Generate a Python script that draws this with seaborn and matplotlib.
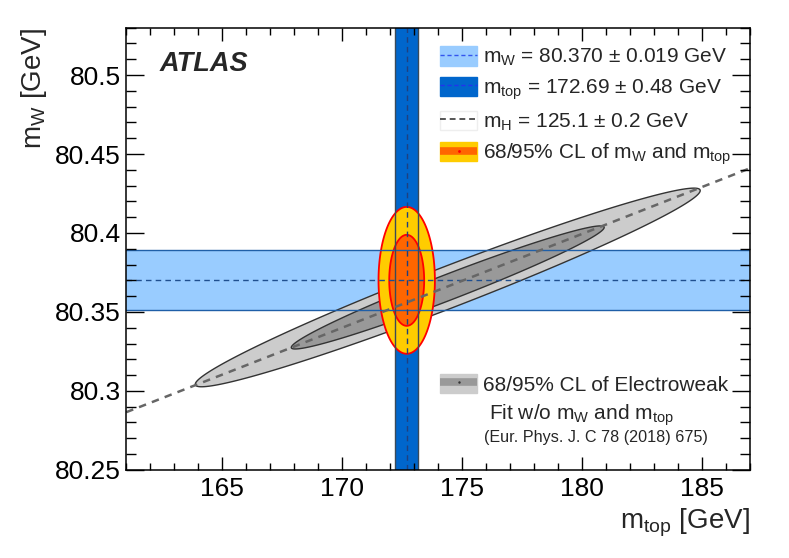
import numpy as np
import pandas as pd
import seaborn as sns
import matplotlib
matplotlib.use("Agg")
import matplotlib.pyplot as plt
from matplotlib.patches import Patch
from matplotlib.lines import Line2D
from matplotlib.ticker import MultipleLocator, FixedLocator

# measurements
mw_val, mw_err = 80.370, 0.019
mt_val, mt_err = 172.69, 0.48

# electroweak fit without mW and mtop
ew_mt, ew_mt_err = 174.4, 4.3
ew_mw, ew_mw_err = 80.3655, 0.0257
ew_rho = 0.975

# mH = 125.1 GeV line
mh_mt = [161.0, 187.0]
mh_mw = [80.2865, 80.441]

# chi2 quantiles for 2 dof: 68% and 95%
cl_levels = [2.30, 5.99]

y_ticks = [80.25, 80.3, 80.35, 80.4, 80.45, 80.5]
y_ticklabels = ['80.25', '80.3', '80.35', '80.4', '80.45', '80.5']

sns.set_theme(style="ticks")
plt.rcParams['font.family'] = ['Liberation Sans', 'DejaVu Sans']
plt.rcParams['mathtext.default'] = 'regular'
plt.rcParams.update({
    'xtick.direction': 'in', 'ytick.direction': 'in',
    'xtick.top': True, 'ytick.right': True,
    'xtick.color': 'black', 'ytick.color': 'black',
    'xtick.major.width': 1.0, 'ytick.major.width': 1.0,
    'xtick.minor.width': 1.0, 'ytick.minor.width': 1.0,
    'xtick.minor.visible': True, 'ytick.minor.visible': True,
    'axes.axisbelow': False,
})


def ellipse(mx, my, sx, sy, rho, k, n=200):
    cov = np.array([[sx**2, rho*sx*sy], [rho*sx*sy, sy**2]])
    L = np.linalg.cholesky(cov)
    t = np.linspace(0, 2*np.pi, n)
    pts = L @ np.vstack([np.cos(t), np.sin(t)]) * np.sqrt(k)
    return mx + pts[0], my + pts[1]


fig, ax = plt.subplots(figsize=(7.89, 5.58), dpi=100)
fig.subplots_adjust(left=0.160, right=0.9506, bottom=0.158, top=0.9504)

# bands (fill only, lines later on top)
ax.axhspan(mw_val - mw_err, mw_val + mw_err, color='#99ccff', lw=0, zorder=1)
ax.axvspan(mt_val - mt_err, mt_val + mt_err, color='#0066cc', lw=0, zorder=1)

# EW fit contours
for k, fc in zip(cl_levels[::-1], ['#cccccc', '#999999']):
    ex, ey = ellipse(ew_mt, ew_mw, ew_mt_err, ew_mw_err, ew_rho, k)
    ax.fill(ex, ey, facecolor=fc, edgecolor='#333333', lw=1.0, zorder=2)

# mW / mtop measurement contours
for k, fc in zip(cl_levels[::-1], ['#ffcc00', '#ff6600']):
    ex, ey = ellipse(mt_val, mw_val, mt_err, mw_err, 0.0, k)
    ax.fill(ex, ey, facecolor=fc, edgecolor='#ff0000', lw=1.3, zorder=3)

# band edges and central lines on top
for v in [mw_val - mw_err, mw_val + mw_err]:
    ax.axhline(v, color='#1f5fa8', lw=1.0, zorder=4)
ax.axhline(mw_val, color='#1f4f8f', lw=1.0, ls=(0, (4, 3)), zorder=4)
for v in [mt_val - mt_err, mt_val + mt_err]:
    ax.axvline(v, color='#3a4a5a', lw=1.0, zorder=4)
ax.axvline(mt_val, color='#1f3f7f', lw=1.0, ls=(0, (4, 3)), zorder=4)

mh = pd.DataFrame({'mt': mh_mt, 'mw': mh_mw})
sns.lineplot(data=mh, x='mt', y='mw', ax=ax, color='#666666', lw=1.8,
             linestyle=(0, (3, 2.5)), zorder=5)

ax.set_xlim(161, 187)
ax.set_ylim(80.25, 80.53)
ax.xaxis.set_major_locator(MultipleLocator(5))
ax.xaxis.set_minor_locator(MultipleLocator(1))
ax.yaxis.set_major_locator(FixedLocator(y_ticks))
ax.yaxis.set_minor_locator(MultipleLocator(0.01))
ax.set_yticklabels(y_ticklabels)

ax.set_xlabel('m$_{top}$ [GeV]', fontsize=20, loc='right')
ax.set_ylabel('m$_{W}$ [GeV]', fontsize=20, loc='top')

ax.text(0.053, 0.918, 'ATLAS', transform=ax.transAxes, fontsize=19.5,
        fontweight='bold', fontstyle='italic', va='center', zorder=11)

h_w = (Patch(facecolor='#99ccff', edgecolor='#99ccff'),
       Line2D([], [], color='#3355ee', ls=(0, (3, 2)), lw=1))
h_t = (Patch(facecolor='#0066cc', edgecolor='#0066cc'),
       Line2D([], [], color='#2233ee', ls=(0, (3, 2)), lw=1))
h_h = (Patch(facecolor='white', edgecolor='#eeeeee'),
       Line2D([], [], color='#555555', ls=(0, (3, 2)), lw=1.4))
h_cl = (Patch(facecolor='#ffcc00', edgecolor='#ffcc00'),
        Line2D([], [], color='#ff6600', lw=5.5, solid_capstyle='butt'),
        Line2D([], [], color='#ff0000', marker='.', ms=2, lw=0))
h_ew = (Patch(facecolor='#cccccc', edgecolor='#cccccc'),
        Line2D([], [], color='#999999', lw=5.5, solid_capstyle='butt'),
        Line2D([], [], color='#333333', marker='.', ms=1.5, lw=0))

leg_kw = dict(loc='upper left', frameon=False, fontsize=15, handlelength=1.78,
              handleheight=1.05, handletextpad=0.3, borderpad=0,
              borderaxespad=0)
leg1 = ax.legend([h_w, h_t, h_h, h_cl],
                 ['m$_{W}$ = 80.370 ± 0.019 GeV',
                  'm$_{top}$ = 172.69 ± 0.48 GeV',
                  'm$_{H}$ = 125.1 ± 0.2 GeV',
                  '68/95% CL of m$_{W}$ and m$_{top}$'],
                 bbox_to_anchor=(0.503, 0.958), labelspacing=0.42, **leg_kw)
leg1.set_zorder(12)
ax.add_artist(leg1)

leg2 = ax.legend([h_ew], ['68/95% CL of Electroweak'],
                 bbox_to_anchor=(0.503, 0.217), **leg_kw)
leg2.set_zorder(12)

ax.text(0.730, 0.124, 'Fit w/o m$_{W}$ and m$_{top}$', transform=ax.transAxes,
        fontsize=15, ha='center', va='center', zorder=12)
ax.text(0.753, 0.073, '(Eur. Phys. J. C 78 (2018) 675)', transform=ax.transAxes,
        fontsize=11.6, ha='center', va='center', zorder=12)

ax.tick_params(which='both', direction='in', top=True, right=True,
               labelsize=19, width=1.0, color='black')
ax.tick_params(axis='x', which='major', length=9.5, pad=5)
ax.tick_params(axis='x', which='minor', length=5)
ax.tick_params(axis='y', which='major', length=13, pad=4)
ax.tick_params(axis='y', which='minor', length=7)
ax.xaxis.set_zorder(9)
ax.yaxis.set_zorder(9)
for s in ax.spines.values():
    s.set_linewidth(1.1)
    s.set_color('black')
    s.set_zorder(10)

plt.savefig('out.png', dpi=100)
